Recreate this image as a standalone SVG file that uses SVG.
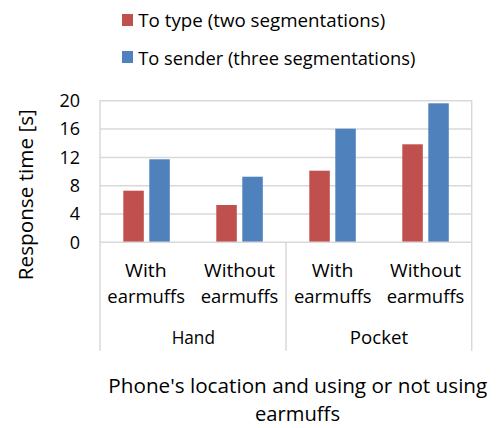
<svg xmlns="http://www.w3.org/2000/svg" width="504" height="428" viewBox="0 0 504 428">
  <style>
    text { font-family: "Open Sans", "Liberation Sans", sans-serif; font-size: 18px; fill: #000; }
    .leg { font-size: 18.5px; }
    .cat { font-size: 18px; }
    .ttl { font-size: 19.5px; }
    .grid { stroke: #d9d9d9; stroke-width: 1.5; fill: none; }
    .axis { stroke: #d9d9d9; stroke-width: 1.5; fill: none; }
    .s1 { fill: #c0504d; }
    .s2 { fill: #4f81bd; }
    .mid { text-anchor: middle; }
    .end { text-anchor: end; }
  </style>
  <rect width="504" height="428" fill="#fff"/>

  <!-- legend -->
  <g id="legend">
    <rect class="s1" x="122" y="14" width="11" height="12"/>
    <text class="leg" x="138.3" y="26.5" textLength="247" lengthAdjust="spacingAndGlyphs">To type (two segmentations)</text>
    <rect class="s2" x="122" y="51" width="11" height="12"/>
    <text class="leg" x="138.3" y="64.5" textLength="277" lengthAdjust="spacingAndGlyphs">To sender (three segmentations)</text>
  </g>

  <!-- gridlines and plot frame -->
  <g id="grid">
    <line class="grid" x1="100" y1="100.7" x2="471.7" y2="100.7"/>
    <line class="grid" x1="100" y1="129" x2="471.7" y2="129"/>
    <line class="grid" x1="100" y1="157.4" x2="471.7" y2="157.4"/>
    <line class="grid" x1="100" y1="185.7" x2="471.7" y2="185.7"/>
    <line class="grid" x1="100" y1="214" x2="471.7" y2="214"/>
    <line class="grid" x1="471.7" y1="100" x2="471.7" y2="351"/>
  </g>

  <!-- y axis ticks and title -->
  <g id="y-axis">
    <text class="end" x="80" y="107">20</text>
    <text class="end" x="80" y="135.3">16</text>
    <text class="end" x="80" y="163.7">12</text>
    <text class="end" x="80" y="192">8</text>
    <text class="end" x="80" y="220.3">4</text>
    <text class="end" x="80" y="248.6">0</text>
    <text class="ttl mid" transform="translate(33 194.7) rotate(-90)" textLength="171" lengthAdjust="spacingAndGlyphs">Response time [s]</text>
  </g>

  <!-- bars -->
  <g id="series-type">
    <rect class="s1" x="123.3" y="190.7" width="20.5" height="51.6"/>
    <rect class="s1" x="216.3" y="205" width="20.5" height="37.3"/>
    <rect class="s1" x="309.3" y="170.7" width="20.5" height="71.6"/>
    <rect class="s1" x="402.3" y="144.3" width="20.5" height="98"/>
  </g>
  <g id="series-sender">
    <rect class="s2" x="149.3" y="159.3" width="20.5" height="83"/>
    <rect class="s2" x="242.3" y="176.7" width="20.5" height="65.6"/>
    <rect class="s2" x="335.3" y="128.7" width="20.5" height="113.6"/>
    <rect class="s2" x="428.3" y="103.3" width="20.5" height="139"/>
  </g>

  <!-- category axis -->
  <g id="x-axis">
    <line class="axis" x1="100" y1="100" x2="100" y2="351"/>
    <line class="axis" x1="100" y1="242.3" x2="471.7" y2="242.3"/>
    <line class="axis" x1="286" y1="242.3" x2="286" y2="351"/>
    <text class="cat mid" x="145.8" y="276.5" textLength="41.7" lengthAdjust="spacingAndGlyphs">With</text>
    <text class="cat mid" x="146.2" y="303" textLength="77.7" lengthAdjust="spacingAndGlyphs">earmuffs</text>
    <text class="cat mid" x="239.5" y="276.5" textLength="71" lengthAdjust="spacingAndGlyphs">Without</text>
    <text class="cat mid" x="239.5" y="303" textLength="77.7" lengthAdjust="spacingAndGlyphs">earmuffs</text>
    <text class="cat mid" x="332.5" y="276.5" textLength="41.7" lengthAdjust="spacingAndGlyphs">With</text>
    <text class="cat mid" x="332.8" y="303" textLength="77.7" lengthAdjust="spacingAndGlyphs">earmuffs</text>
    <text class="cat mid" x="425.5" y="276.5" textLength="71" lengthAdjust="spacingAndGlyphs">Without</text>
    <text class="cat mid" x="425.5" y="303" textLength="77.7" lengthAdjust="spacingAndGlyphs">earmuffs</text>
    <text class="cat mid" x="193.3" y="344" textLength="43.3" lengthAdjust="spacingAndGlyphs">Hand</text>
    <text class="cat mid" x="379" y="344" textLength="58.3" lengthAdjust="spacingAndGlyphs">Pocket</text>
    <text class="ttl mid" x="297.8" y="393.3" textLength="379" lengthAdjust="spacingAndGlyphs">Phone's location and using or not using</text>
    <text class="ttl mid" x="297.5" y="421" textLength="85" lengthAdjust="spacingAndGlyphs">earmuffs</text>
  </g>
</svg>
